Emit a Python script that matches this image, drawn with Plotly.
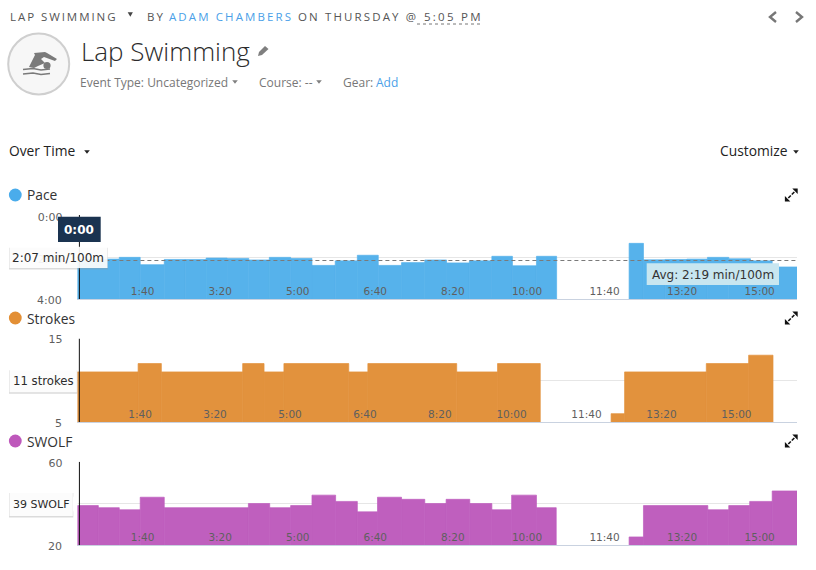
import json
import plotly.graph_objects as go

W, H = 816, 570

# ---- data (seconds) ----
tick_seconds = [100, 200, 300, 400, 500, 600, 700, 800, 900]
tick_labels = ["1:40", "3:20", "5:00", "6:40", "8:20", "10:00", "11:40", "13:20", "15:00"]

pace_edges = [0, 54, 81, 112, 139, 166, 193, 221, 247.5, 275, 302.5, 332.5, 361, 388, 418, 448,
              476, 505.5, 534.5, 561, 592, 618, 711.5, 730, 758, 786, 812.5, 840, 868, 896, 928]
pace_values = [126, 121, 142, 127, 127, 123, 124, 128.5, 121, 124, 144, 131, 115, 144, 136, 128.5,
               137, 131, 118, 145, 118, None, 81, 128, 127, 126, 121, 125, 131, 148.5]
pace_avg_line = 130

strokes_edges = [0, 81, 112, 220.5, 249, 275.5, 362, 387.5, 506, 560.5, 617.5, 712, 730, 839, 895.5, 928]
strokes_values = [11, 12, 11, 12, 11, 12, 11, 12, 11, 12, None, 6, 11, 12, 13]

swolf_edges = [0, 27, 54, 81, 112, 220.5, 248, 275, 302.5, 333, 361, 387, 418, 448, 475.5, 506,
               534.5, 560, 592, 617.5, 711.5, 730, 813, 840, 867, 896, 928]
swolf_values = [39, 38, 37, 43, 38, 40, 38, 39, 44, 41, 36, 43, 42, 40, 42, 40, 37, 44, 38, None,
                24, 39, 37, 39, 41, 46]

cursor_second = 2.6
BLUE, ORANGE, PURPLE = "#56B2EB", "#E2923D", "#BF5FBE"
LINK = "#4A9FE8"
SANS = "Open Sans"
DEJAVU = "DejaVu Sans"


def fx(x):
    return x / W


def fy(y):
    return 1 - y / H


def segments(edges, values):
    kept = [(a, b, v) for a, b, v in zip(edges[:-1], edges[1:], values) if v is not None]
    return [k[0] for k in kept], [k[1] - k[0] for k in kept], [k[2] for k in kept]


def path(points, close=True):
    s = "M" + " L".join(f"{fx(x):.5f},{fy(y):.5f}" for x, y in points)
    return s + (" Z" if close else "")


def poly(points, fill, line=None, width=0, close=True):
    d = dict(type="path", xref="paper", yref="paper", path=path(points, close), layer="above",
             line=dict(width=width, color=line or fill))
    if close:
        d["fillcolor"] = fill
    return d


def rect(x0, y0, x1, y1, fill, line=None, opacity=1):
    return dict(type="rect", xref="paper", yref="paper", x0=fx(x0), x1=fx(x1), y0=fy(y1), y1=fy(y0),
                fillcolor=fill, opacity=opacity, layer="above",
                line=dict(width=1 if line else 0, color=line or fill))


def circle(cx, cy, r, fill, line=None, width=0):
    return dict(type="circle", xref="paper", yref="paper", x0=fx(cx - r), x1=fx(cx + r),
                y0=fy(cy + r), y1=fy(cy - r), fillcolor=fill, layer="above",
                line=dict(width=width, color=line or fill))


def text(x, y, s, size=12, color="#333333", family=SANS, anchor="left", **font):
    return dict(x=fx(x), y=fy(y), xref="paper", yref="paper", text=s, showarrow=False, xanchor=anchor,
                yanchor="middle", borderpad=0, font=dict(size=size, color=color, family=family, **font))


def axis_floor_label(yref, value, s):
    # the lowest y label: plotly drops it next to inside x tick labels, so it is set on the same scale
    return dict(x=fx(62.5), xref="paper", y=value, yref=yref, text=s, showarrow=False, xanchor="right",
                yanchor="middle", yshift=-1, borderpad=0, font=yfont)


def tri(x, y, w=3.0, h=4.0, fill="#666666"):
    return poly([(x - w, y - h / 2), (x + w, y - h / 2), (x, y + h / 2)], fill)


def expand_icon(cx, cy):
    c = "#111111"
    return [
        poly([(cx + 6.4, cy - 6.4), (cx + 1, cy - 6.4), (cx + 6.4, cy - 1)], c),
        poly([(cx - 6.4, cy + 6.4), (cx - 1, cy + 6.4), (cx - 6.4, cy + 1)], c),
        poly([(cx + 3, cy - 3), (cx + 0.5, cy - 0.5)], c, c, 1.6, close=False),
        poly([(cx - 3, cy + 3), (cx - 0.5, cy + 0.5)], c, c, 1.6, close=False),
    ]


def bar_marker(color):
    return dict(color=color, line=dict(width=0.7, color=color))


fig = go.Figure()
px, pw, pv = segments(pace_edges, pace_values)
fig.add_trace(go.Bar(x=px, width=pw, offset=0, base=pv, y=[240 - v for v in pv], marker=bar_marker(BLUE),
                     xaxis="x", yaxis="y", showlegend=False))
sx, sw, sv = segments(strokes_edges, strokes_values)
fig.add_trace(go.Bar(x=sx, width=sw, offset=0, y=sv, marker=bar_marker(ORANGE),
                     xaxis="x2", yaxis="y2", showlegend=False))
wx, ww, wv = segments(swolf_edges, swolf_values)
fig.add_trace(go.Bar(x=wx, width=ww, offset=0, y=wv, marker=bar_marker(PURPLE),
                     xaxis="x3", yaxis="y3", showlegend=False))

tickfont = dict(size=10.5, family=DEJAVU, color="#5f5f5f")
yfont = dict(size=11, family=DEJAVU, color="#5f5f5f")
left, right = fx(77.4), fx(797)


def xaxis(anchor, maximum):
    return dict(domain=[left, right], range=[0, maximum], anchor=anchor, tickmode="array",
                tickvals=tick_seconds, ticktext=tick_labels, ticklabelposition="inside left",
                ticklabelstandoff=-2, ticks="", showgrid=False, zeroline=False, showline=True,
                linecolor="#C9D2E0", linewidth=1, tickfont=tickfont)


def yaxis(anchor, top, bottom, rng, vals, labels, shift):
    return dict(domain=[fy(bottom), fy(top)], range=rng, anchor=anchor, tickmode="array", tickvals=vals,
                ticktext=labels, ticks="", showgrid=True, gridcolor="#E6E6E6", gridwidth=1, zeroline=False,
                showline=False, ticklabelstandoff=14, ticklabelshift=shift, tickfont=yfont)


shapes = []
# header icon
shapes += [circle(38.7, 64, 30.5, "#F7F7F7", "#CFCFCF", 2)]
gray = "#7A7A7A"
shapes += [
    poly([(29, 67), (35, 55), (34, 53), (45, 52), (47, 53), (57, 59), (55, 61), (44, 57), (41, 59), (45, 63), (38, 66), (34, 68)], gray),
    circle(47, 65.5, 3.6, gray),
    poly([(23, 69.5), (33, 68.5), (41, 70), (50, 69)], gray, gray, 1.4, close=False),
    poly([(23, 74), (33, 73), (41, 74.5), (50, 73.5)], gray, gray, 1.4, close=False),
]
# header glyphs
shapes += [tri(130.3, 14.5, 2.6, 4.4, "#444444"), tri(235, 82, 2.8, 3.6, "#808080"), tri(319, 82, 2.8, 3.6, "#808080")]
shapes += [tri(87, 152, 2.8, 3.6, "#222222"), tri(796, 152, 2.8, 3.6, "#222222")]
shapes += [poly([(417, 24), (480, 24)], "#777777", "#777777", 1, close=False)]
shapes[-1]["line"]["dash"] = "dot"
shapes += [poly([(776, 12), (770, 17), (776, 22)], "#777777", "#777777", 2.4, close=False),
           poly([(796, 12), (802, 17), (796, 22)], "#777777", "#777777", 2.4, close=False)]
# pencil
shapes += [poly([(258, 56), (259, 52), (265, 46), (268.5, 49), (262, 55)], "#7F7F7F")]
# section dots and expanders
for cy, col in ((195, "#4AACEB"), (318, "#E38F35"), (441, "#BE58BB")):
    shapes.append(circle(15.3, cy, 6.4, col))
    shapes += expand_icon(791.3, cy)
# average dashed line (data coordinates)
shapes.append(dict(type="line", xref="x", yref="y", x0=0, x1=928, y0=pace_avg_line, y1=pace_avg_line, layer="above",
                   line=dict(color="#7A7A7A", width=1, dash="4px,3px")))
# cursor
for xr, yr, lo, hi in (("x", "y", 0, 240), ("x2", "y2", 5, 15), ("x3", "y3", 20, 60)):
    shapes.append(dict(type="line", xref=xr, yref=yr, x0=cursor_second, x1=cursor_second, y0=lo, y1=hi, layer="above",
                       line=dict(color="#111111", width=1)))
# callouts
shapes += [rect(58, 216.7, 100.7, 242, "#1A3350")]
shapes += [rect(646.7, 263.3, 779, 285, "#C8E6F0")]
for x1, y0, y1 in ((108, 246.7, 268), (77.3, 369.3, 392.3), (73.3, 492, 516)):
    shapes += [rect(9, y0 + 1, x1, y1 + 1.5, "#999999", opacity=0.35), rect(9.5, y0, x1 - 0.5, y1, "#FFFFFF", opacity=0.9)]
shapes += [poly([(73, 496), (78, 504), (73, 512)], "#FFFFFF")]

ann = [
    text(9, 17, "LAP SWIMMING", 11.5, "#555555"),
    text(145.7, 17, "BY", 11.5, "#555555"),
    text(168, 17, "ADAM CHAMBERS", 11.5, LINK),
    text(297, 17, "ON THURSDAY @", 11.5, "#555555"),
    text(422.7, 17, "5:05 PM", 11.5, "#555555"),
    text(79.5, 51, "Lap Swimming", 26, "#2B2B2B", weight=300),
    text(78.5, 82, "Event Type: Uncategorized", 12, "#777777"),
    text(258, 82, "Course: --", 12, "#777777"),
    text(341.5, 82, "Gear:", 12, "#777777"),
    text(374.5, 82, "Add", 12, LINK),
    text(7.5, 151, "Over Time", 13.8, "#222222"),
    text(789, 151, "Customize", 13.8, "#222222", anchor="right"),
    text(25.5, 195, "Pace", 13.8),
    text(25.5, 318, "Strokes", 13.8),
    text(25.5, 441, "SWOLF", 13.8),
    text(79.3, 229.5, "0:00", 12, "#FFFFFF", DEJAVU, "center", weight=700),
    text(11, 257.5, "2:07 min/100m", 12, "#2b2b2b", DEJAVU),
    text(12, 381, "11 strokes", 11.7, "#2b2b2b", DEJAVU),
    text(12, 504, "39 SWOLF", 11, "#2b2b2b", DEJAVU),
    text(651, 275, "Avg: 2:19 min/100m", 12, "#333333", DEJAVU),
    axis_floor_label("y", 240, "4:00"),
    axis_floor_label("y2", 5, "5"),
    axis_floor_label("y3", 20, "20"),
]

fig.update_layout(
    width=W, height=H, margin=dict(l=0, r=0, t=0, b=0, pad=0, autoexpand=False), autosize=False,
    paper_bgcolor="#FFFFFF", plot_bgcolor="rgba(0,0,0,0)", barmode="overlay", showlegend=False,
    xaxis=xaxis("y", 928), xaxis2=xaxis("y2", 960), xaxis3=xaxis("y3", 928),
    yaxis=yaxis("x", 215, 299, [240, 0], [0, 120], ["0:00", "2:00"], -2),
    yaxis2=yaxis("x2", 338.5, 422, [5, 15], [10, 15], ["", "15"], 1),
    yaxis3=yaxis("x3", 461.7, 545.3, [20, 60], [40, 60], ["", "60"], 1),
    shapes=shapes, annotations=ann,
)

# header row is letter-spaced in the original; fit each run to its measured width
spaced = {"LAP SWIMMING": 105.5, "BY": 16.5, "ADAM CHAMBERS": 122, "ON THURSDAY @": 118, "5:05 PM": 56.5}
post = """
document.body.style.margin='0';
var spaced = %s;
document.querySelectorAll('.annotation-text').forEach(function(t){
  var target = spaced[t.textContent];
  if(!target) return;
  var a = t.getBBox();
  t.style.letterSpacing = ((target - a.width) / Math.max(1, t.textContent.length - 1)) + 'px';
  var b = t.getBBox();
  t.setAttribute('x', parseFloat(t.getAttribute('x') || 0) + a.x - b.x);
});
""" % json.dumps(spaced)

fig.write_html("out.html", post_script=post, config={"displayModeBar": False})
